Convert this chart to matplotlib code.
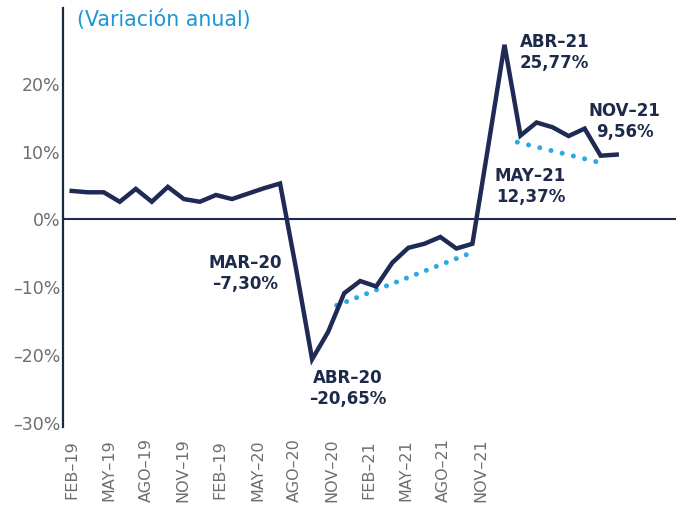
import numpy as np
import matplotlib
matplotlib.use("Agg")
import matplotlib.pyplot as plt

# ---- data ----
values = [4.2, 4.0, 4.0, 2.6, 4.5, 2.6, 4.8, 3.0, 2.6, 3.6, 3.0, 3.8, 4.6, 5.3,
          -7.30, -20.65, -16.6, -10.9, -9.1, -9.9, -6.4, -4.2, -3.6, -2.6, -4.3, -3.6,
          11.0, 25.77, 12.37, 14.3, 13.6, 12.3, 13.4, 9.4, 9.56]
tick_labels = ["FEB–19", "MAY–19", "AGO–19", "NOV–19", "FEB–19", "MAY–20",
               "AGO–20", "NOV–20", "FEB–21", "MAY–21", "AGO–21", "NOV–21"]
y_ticks = [20, 10, 0, -10, -20, -30]
y_tick_labels = ["20%", "10%", "0%", "–10%", "–20%", "–30%"]

trend1_x = [16.53, 24.74]
trend1_y = [-12.7, -5.1]
trend2_x = [27.8, 32.75]
trend2_y = [11.4, 8.5]

annot_idx = [14, 15, 28, 27, 34]
annot_text = ["MAR–20\n–7,30%", "ABR–20\n–20,65%", "MAY–21\n12,37%",
              "ABR–21\n25,77%", "NOV–21\n9,56%"]
annot_offset = [(-51, -5), (36, -29), (10, -51), (50, -8), (8, 33)]

title = "(Variación anual)"

# ---- style ----
navy = "#1f2a55"
text_navy = "#1d2a4a"
blue = "#2aa9e2"
title_blue = "#1b96d6"
grey = "#6e6e6e"
font = "DejaVu Sans"

fig = plt.figure(figsize=(6.76, 5.15), dpi=100)
W, H = 676, 515
ax = fig.add_axes([63 / W, 1 - 426.7 / H, 1 - 63 / W, (426.7 - 8) / H])

x = np.arange(len(values))
ax.plot(x, values, color=navy, lw=3.2, solid_joinstyle="miter", zorder=3)

ax.plot(trend1_x, trend1_y, color=blue, lw=3.6, linestyle=(0, (0.01, 2.13)),
        dash_capstyle="round", zorder=2)
ax.plot(trend2_x, trend2_y, color=blue, lw=3.6, linestyle=(0, (0.01, 2.3)),
        dash_capstyle="round", zorder=2)

ax.axhline(0, color=navy, lw=1.5, zorder=1)

ax.set_xlim(-0.54, 37.7)
ax.set_ylim(-30.6, 31.2)

for s in ["top", "right", "bottom"]:
    ax.spines[s].set_visible(False)
ax.spines["left"].set_color("#1a2a40")
ax.spines["left"].set_linewidth(1.6)

ax.set_yticks(y_ticks)
ax.set_yticklabels(y_tick_labels, fontsize=12.5, color=grey, family=font)
ax.tick_params(axis="y", length=0, pad=2)

ax.set_xticks(np.linspace(0, 25.5, len(tick_labels)))
ax.set_xticklabels(tick_labels, rotation=90, fontsize=11.5, color=grey,
                   family=font, va="center", ha="center")
ax.tick_params(axis="x", length=0, pad=31)

for i, t, off in zip(annot_idx, annot_text, annot_offset):
    ax.annotate(t, xy=(x[i], values[i]), xytext=off, textcoords="offset pixels",
                ha="center", va="center", fontsize=12, fontweight="bold",
                color=text_navy, family=font, linespacing=1.2, zorder=4)

fig.text(77 / W, 1 - 20 / H, title, color=title_blue, fontsize=14.8,
         family=font, ha="left", va="center")

fig.savefig("out.png", dpi=100)
